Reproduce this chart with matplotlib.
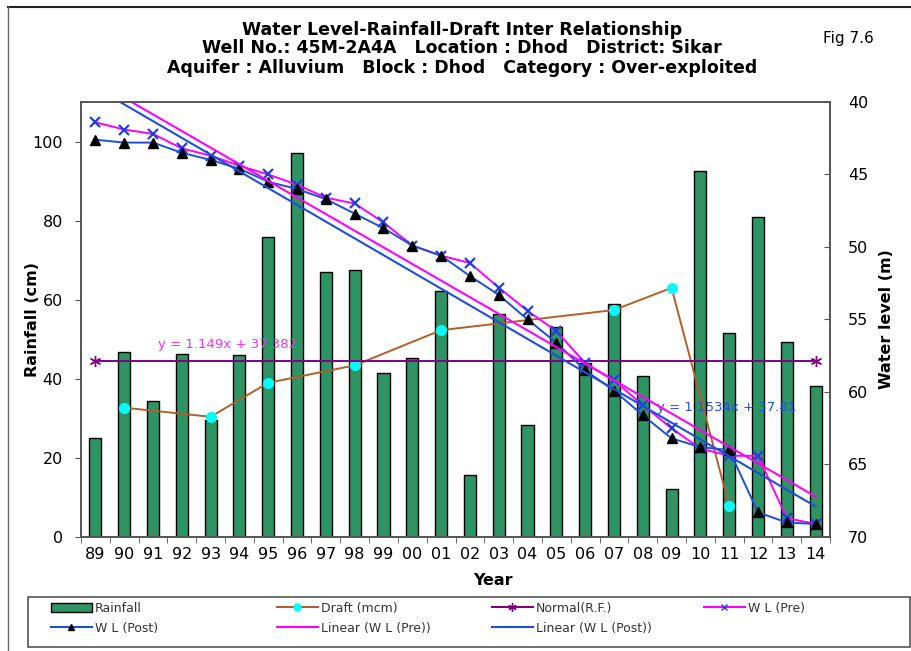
import numpy as np
import matplotlib
matplotlib.use("Agg")
import matplotlib.pyplot as plt
from matplotlib.lines import Line2D
from matplotlib.patches import Patch, Rectangle

plt.rcParams['font.family'] = ['DejaVu Sans']

years = ['89', '90', '91', '92', '93', '94', '95', '96', '97', '98', '99', '00', '01',
         '02', '03', '04', '05', '06', '07', '08', '09', '10', '11', '12', '13', '14']
rainfall = [25.1, 46.7, 34.3, 46.4, 29.7, 46.0, 75.9, 97.2, 67.0, 67.5, 41.4, 45.2, 62.2,
            15.7, 56.3, 28.4, 53.0, 44.0, 58.9, 40.6, 12.2, 92.6, 51.5, 81.0, 49.2, 38.3]
draft_years = ['90', '93', '95', '98', '01', '07', '09', '11']
draft = [32.7, 30.4, 39.0, 43.4, 52.3, 57.4, 63.0, 7.9]
normal_years = ['89', '14']
normal_rf = [44.4, 44.4]
wl_pre = [41.4, 41.9, 42.2, 43.2, 43.7, 44.4, 45.0, 45.7, 46.6, 47.0, 48.3, 49.9, 50.6,
          51.1, 52.8, 54.4, 55.8, 58.0, 59.2, 60.9, 62.5, 63.9, 64.4, 64.4, 68.7, 69.1]
wl_post = [42.6, 42.8, 42.8, 43.5, 44.0, 44.6, 45.5, 46.0, 46.7, 47.7, 48.7, 49.9, 50.6,
           52.0, 53.3, 55.0, 56.6, 58.5, 59.9, 61.6, 63.2, 63.8, 64.0, 68.3, 69.0, 69.1]

x = np.arange(len(years))
dx = np.array([years.index(y) for y in draft_years])
nx = np.array([years.index(y) for y in normal_years])

BAR = '#2e9463'
BROWN = '#b0602a'
PURPLE = '#800080'
PINK = '#ff00ff'
BLUE = '#1f4fd8'
XBLUE = '#1f3fe0'

fig = plt.figure(figsize=(9.11, 6.51), dpi=100)
ax = fig.add_axes([81/911, 1-537/651, (830-81)/911, (537-102)/651])
ax2 = ax.twinx()

# rainfall bars + left-axis series
ax.bar(x, rainfall, width=0.42, color=BAR, edgecolor='black', linewidth=1.0, zorder=2)
ax.plot(dx, draft, color=BROWN, lw=1.4, marker='o', ms=7, mfc='#00ffff', mec='#00ffff', zorder=3)
ax.plot(nx, normal_rf, color=PURPLE, lw=1.4, marker=(6, 2, 0), ms=8, mec=PURPLE, zorder=3)

# water levels on right axis
ax2.plot(x, wl_pre, color=PINK, lw=1.4, marker='x', ms=7.5, mec=XBLUE, mew=1.6)
ax2.plot(x, wl_post, color=BLUE, lw=1.4, marker='^', ms=7.5, mfc='black', mec='black')
t = x + 1
p_pre = np.polyfit(t, wl_pre, 1)
p_post = np.polyfit(t, wl_post, 1)
ax2.plot(x, np.polyval(p_pre, t), color=PINK, lw=1.5)
ax2.plot(x, np.polyval(p_post, t), color=BLUE, lw=1.5)

ax.text(77/749, 0.435, 'y = 1.149x + 37.382', transform=ax.transAxes, color='#ee33ee', fontsize=9.5)
ax.text(576/749, 0.29, 'y = 1.1534x + 37.81', transform=ax.transAxes, color='#2050e0', fontsize=9.5)

ax.set_xlim(-0.5, len(years) - 0.5)
ax.set_ylim(0, 110)
ax.set_yticks([0, 20, 40, 60, 80, 100])
ax.set_xticks(x)
ax.set_xticklabels(years)
ax.set_xticks(np.arange(-0.5, len(years)), minor=True)
ax.tick_params(axis='x', which='major', length=0, labelsize=11.5, pad=7)
ax.tick_params(axis='x', which='minor', length=4, direction='out', color='#555555')
ax.tick_params(axis='y', length=4, direction='out', labelsize=11.5, pad=9, color='#555555')
ax2.set_ylim(70, 40)
ax2.set_yticks([40, 45, 50, 55, 60, 65, 70])
ax2.tick_params(axis='y', length=4, direction='in', labelsize=11.5, pad=13, color='#555555')
for a in (ax, ax2):
    for s in a.spines.values():
        s.set_color('#555555')
        s.set_linewidth(1.2)

ax.set_ylabel('Rainfall (cm)', fontsize=11.5, fontweight='bold')
ax.yaxis.set_label_coords(-41/749, 0.5)
ax2.set_ylabel('Water level (m)', fontsize=11.5, fontweight='bold')
ax2.yaxis.set_label_coords(1 + 49/749, 0.5)
ax.set_xlabel('Year', fontsize=11.5, fontweight='bold')
ax.xaxis.set_label_coords(0.55, -0.082)

for ty, s in [(30, 'Water Level-Rainfall-Draft Inter Relationship'),
              (48, 'Well No.: 45M-2A4A   Location : Dhod   District: Sikar'),
              (68, 'Aquifer : Alluvium   Block : Dhod   Category : Over-exploited')]:
    fig.text(462/911, 1-ty/651, s, ha='center', va='center', fontsize=12.5, fontweight='bold')
fig.text(848/911, 1-38/651, 'Fig 7.6', ha='center', va='center', fontsize=11)

# outer frame lines
fig.add_artist(Line2D([8/911, 1], [1-7/651, 1-7/651], transform=fig.transFigure, color='#222222', lw=1.5))
fig.add_artist(Line2D([8/911, 8/911], [0, 1-7/651], transform=fig.transFigure, color='#666666', lw=1.0))

# legend box and columns
fig.add_artist(Rectangle((28/911, 1-647/651), (910-28)/911, 50/651, transform=fig.transFigure,
                         facecolor='white', edgecolor='#555555', lw=1.2))
columns = [
    (47, [Patch(facecolor=BAR, edgecolor='black', label='Rainfall'),
          Line2D([], [], color=BLUE, marker='^', mfc='black', mec='black', ms=5, label='W L (Post)')]),
    (273, [Line2D([], [], color=BROWN, marker='o', mfc='#00ffff', mec='#00ffff', ms=5, label='Draft (mcm)'),
           Line2D([], [], color=PINK, lw=1.5, label='Linear (W L (Pre))')]),
    (488, [Line2D([], [], color=PURPLE, marker=(6, 2, 0), ms=6, label='Normal(R.F.)'),
           Line2D([], [], color=BLUE, lw=1.5, label='Linear (W L (Post))')]),
    (700, [Line2D([], [], color=PINK, marker='x', mec=XBLUE, ms=5, label='W L (Pre)')]),
]
for lx, hs in columns:
    leg = fig.legend(handles=hs, loc='upper left', bbox_to_anchor=(lx/911, 1-598/651),
                     frameon=False, fontsize=9, handlelength=3.3, handletextpad=0.25,
                     borderaxespad=0, borderpad=0.3, labelspacing=0.55)
    for txt in leg.get_texts():
        txt.set_color('#333333')

fig.savefig('out.png', dpi=100)
